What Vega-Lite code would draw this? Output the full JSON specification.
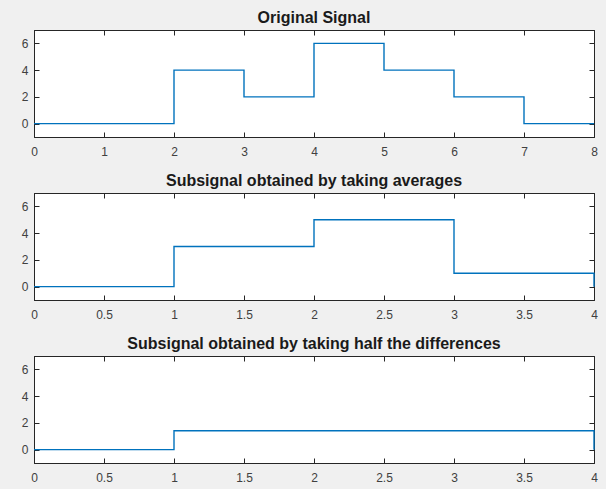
{
  "$schema": "https://vega.github.io/schema/vega-lite/v6.json",
  "background": "#f0f0f0",
  "padding": {"left": 20, "top": 9, "right": 8, "bottom": 6},
  "spacing": 14,
  "datasets": {
    "orig": [
      {"i": 0, "x": 0, "y": 0}, {"i": 1, "x": 1, "y": 0}, {"i": 2, "x": 2, "y": 4}, {"i": 3, "x": 3, "y": 2},
      {"i": 4, "x": 4, "y": 6}, {"i": 5, "x": 5, "y": 4}, {"i": 6, "x": 6, "y": 2}, {"i": 7, "x": 7, "y": 0},
      {"i": 8, "x": 8, "y": 0}
    ],
    "avg": [
      {"i": 0, "x": 0, "y": 0}, {"i": 1, "x": 1, "y": 3}, {"i": 2, "x": 2, "y": 5}, {"i": 3, "x": 3, "y": 1},
      {"i": 4, "x": 4, "y": 1}, {"i": 5, "x": 4, "y": 0}
    ],
    "diff": [
      {"i": 0, "x": 0, "y": 0}, {"i": 1, "x": 1, "y": 1.41}, {"i": 2, "x": 2, "y": 1.41}, {"i": 3, "x": 3, "y": 1.41},
      {"i": 4, "x": 4, "y": 1.41}, {"i": 5, "x": 4, "y": 0}
    ]
  },
  "vconcat": [
    {
      "title": "Original Signal",
      "width": 560, "height": 107,
      "data": {"name": "orig"},
      "layer": [
        {
          "mark": {"type": "line", "interpolate": "step-after", "color": "#0072BD", "strokeWidth": 1.4},
          "encoding": {
            "x": {"field": "x", "type": "quantitative", "title": null, "scale": {"domain": [0, 8], "nice": false, "zero": false}, "axis": {"orient": "bottom", "values": [0,1,2,3,4,5,6,7,8]}},
            "y": {"field": "y", "type": "quantitative", "title": null, "scale": {"domain": [-1, 7], "nice": false, "zero": false}, "axis": {"orient": "left", "values": [0,2,4,6]}},
            "order": {"field": "i", "type": "quantitative"}
          }
        },
        {
          "mark": {"type": "line", "opacity": 0},
          "encoding": {
            "x": {"field": "x", "type": "quantitative", "title": null, "axis": {"orient": "top", "values": [0,1,2,3,4,5,6,7,8], "labels": false}},
            "y": {"field": "y", "type": "quantitative", "title": null, "axis": {"orient": "right", "values": [0,2,4,6], "labels": false}}
          }
        }
      ],
      "resolve": {"axis": {"x": "independent", "y": "independent"}}
    },
    {
      "title": "Subsignal obtained by taking averages",
      "width": 560, "height": 107,
      "data": {"name": "avg"},
      "layer": [
        {
          "mark": {"type": "line", "interpolate": "step-after", "color": "#0072BD", "strokeWidth": 1.4},
          "encoding": {
            "x": {"field": "x", "type": "quantitative", "title": null, "scale": {"domain": [0, 4], "nice": false, "zero": false}, "axis": {"orient": "bottom", "values": [0,0.5,1,1.5,2,2.5,3,3.5,4]}},
            "y": {"field": "y", "type": "quantitative", "title": null, "scale": {"domain": [-1, 7], "nice": false, "zero": false}, "axis": {"orient": "left", "values": [0,2,4,6]}},
            "order": {"field": "i", "type": "quantitative"}
          }
        },
        {
          "mark": {"type": "line", "opacity": 0},
          "encoding": {
            "x": {"field": "x", "type": "quantitative", "title": null, "axis": {"orient": "top", "values": [0,0.5,1,1.5,2,2.5,3,3.5,4], "labels": false}},
            "y": {"field": "y", "type": "quantitative", "title": null, "axis": {"orient": "right", "values": [0,2,4,6], "labels": false}}
          }
        }
      ],
      "resolve": {"axis": {"x": "independent", "y": "independent"}}
    },
    {
      "title": "Subsignal obtained by taking half the differences",
      "width": 560, "height": 107,
      "data": {"name": "diff"},
      "layer": [
        {
          "mark": {"type": "line", "interpolate": "step-after", "color": "#0072BD", "strokeWidth": 1.4},
          "encoding": {
            "x": {"field": "x", "type": "quantitative", "title": null, "scale": {"domain": [0, 4], "nice": false, "zero": false}, "axis": {"orient": "bottom", "values": [0,0.5,1,1.5,2,2.5,3,3.5,4]}},
            "y": {"field": "y", "type": "quantitative", "title": null, "scale": {"domain": [-1, 7], "nice": false, "zero": false}, "axis": {"orient": "left", "values": [0,2,4,6]}},
            "order": {"field": "i", "type": "quantitative"}
          }
        },
        {
          "mark": {"type": "line", "opacity": 0},
          "encoding": {
            "x": {"field": "x", "type": "quantitative", "title": null, "axis": {"orient": "top", "values": [0,0.5,1,1.5,2,2.5,3,3.5,4], "labels": false}},
            "y": {"field": "y", "type": "quantitative", "title": null, "axis": {"orient": "right", "values": [0,2,4,6], "labels": false}}
          }
        }
      ],
      "resolve": {"axis": {"x": "independent", "y": "independent"}}
    }
  ],
  "config": {
    "view": {"fill": "white", "stroke": "#262626"},
    "axis": {
      "grid": false,
      "domainColor": "#262626",
      "tickColor": "#262626",
      "tickSize": -5,
      "labelColor": "#404040",
      "labelFont": "Liberation Sans",
      "labelFontSize": 12,
      "labelFlush": false,
      "labelOverlap": false,
      "format": "~g"
    },
    "axisBottom": {"labelPadding": 14},
    "axisLeft": {"labelPadding": 11},
    "title": {"font": "Liberation Sans", "fontSize": 16, "fontWeight": "bold", "color": "#1a1a1a", "offset": 4}
  }
}
